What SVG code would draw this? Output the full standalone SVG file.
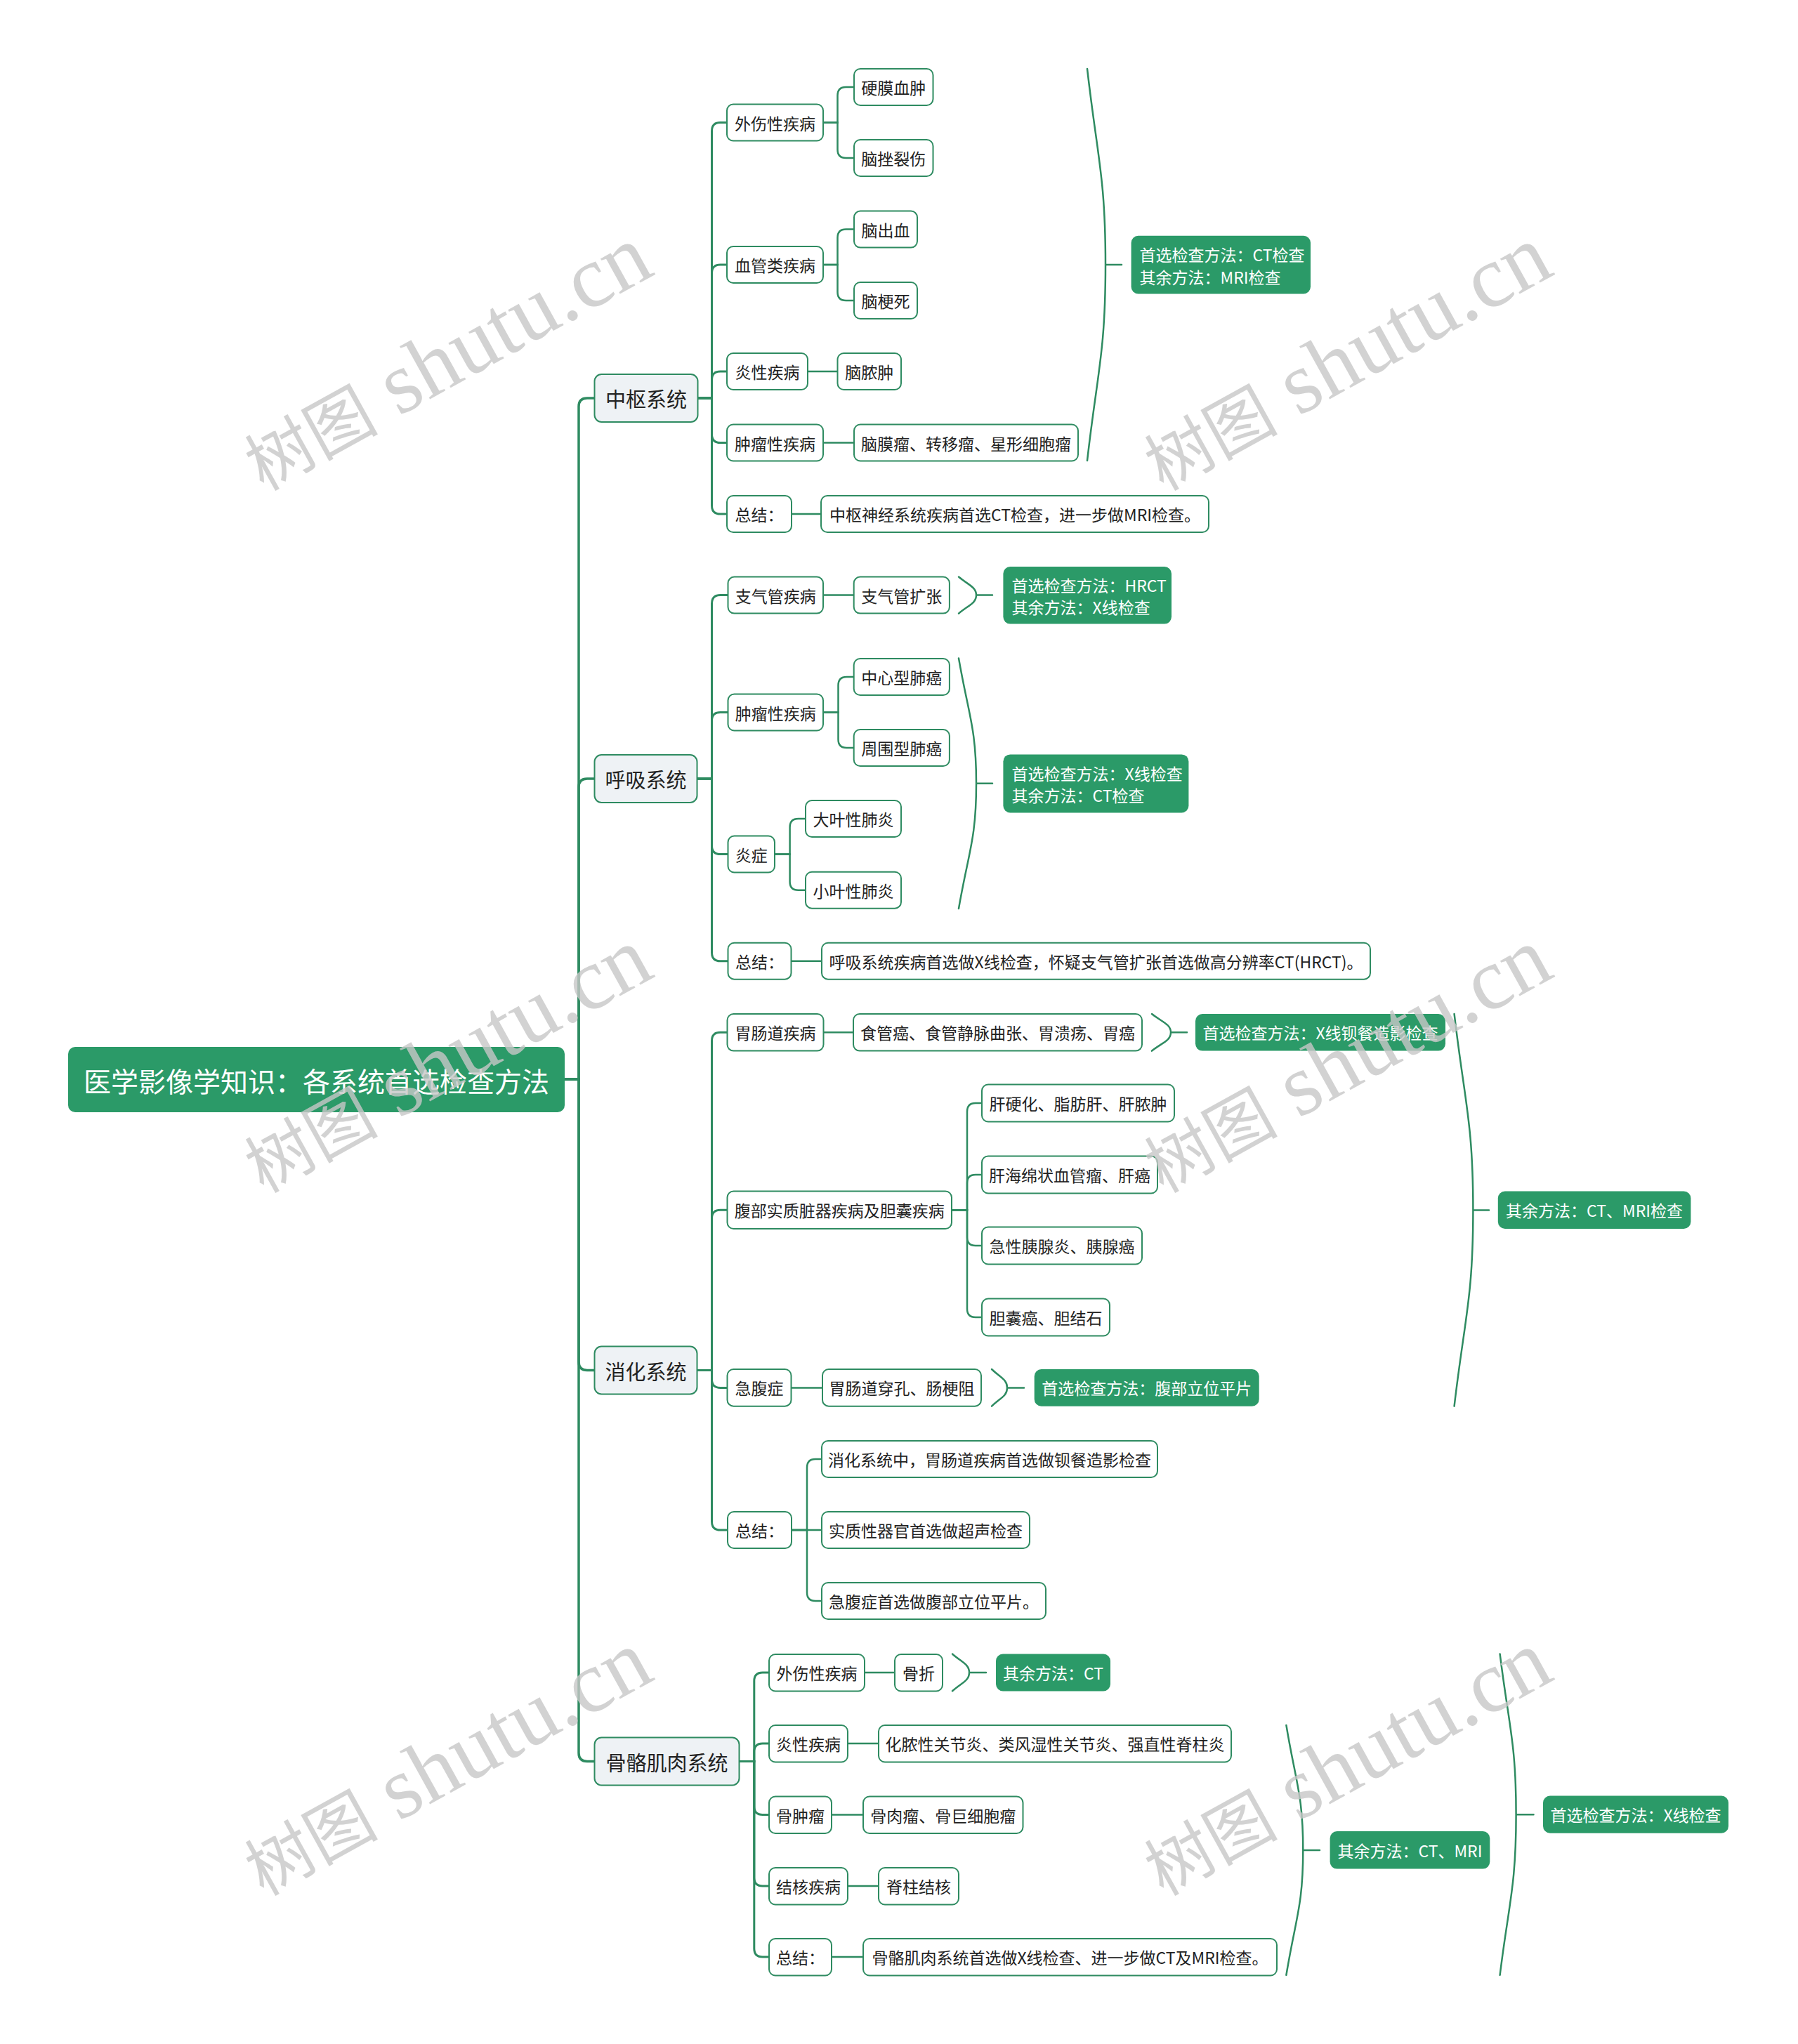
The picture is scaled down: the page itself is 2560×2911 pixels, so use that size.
<svg xmlns="http://www.w3.org/2000/svg" width="2560" height="2911" viewBox="0 0 2560 2911">
<style>
text{font-family:"Noto Sans CJK SC","Noto Sans",sans-serif;fill:#222;}
.nd rect{fill:#fff;stroke:#2e8b61;stroke-width:2;}
.nd text{font-size:23px;text-anchor:middle;dominant-baseline:central;}
.l1 rect{fill:#eef2f5;stroke:#2e8b61;stroke-width:2;}
.l1 text{font-size:29px;text-anchor:middle;dominant-baseline:central;}
.gr rect{fill:#2b9a68;}
.gr text{font-size:23px;fill:#fff;dominant-baseline:central;}
.gr text.m{text-anchor:middle;}
.root rect{fill:#2b9a68;}
.root text{font-size:39px;fill:#fff;text-anchor:middle;dominant-baseline:central;}
.cn path{fill:none;stroke:#2e8b61;stroke-linecap:round;}
.t0 path{stroke-width:3.5;}
.t1 path{stroke-width:3;}
.t2 path{stroke-width:2.5;}
.wm{fill:#c8c8c8;opacity:0.8;}
.wmc{font-family:"Noto Sans CJK SC",serif;font-size:95px;}
.wml{font-family:"Liberation Serif",serif;font-size:125px;}
</style>
<rect width="2560" height="2911" fill="#fff"/>
<g id="connectors" class="cn">
<g class="t0">
<path d="M804 1537 H824 V579 Q824 567 836 567 H846.5"/>
<path d="M804 1537 H824 V1121 Q824 1109 836 1109 H846.5"/>
<path d="M804 1537 H824 V1939.5 Q824 1951.5 836 1951.5 H846.5"/>
<path d="M804 1537 H824 V2496.5 Q824 2508.5 836 2508.5 H846.5"/>
</g>
<g class="t1">
<path d="M993.5 567 H1013.5 V186.5 Q1013.5 174.5 1025.5 174.5 H1035"/>
<path d="M993.5 567 H1013.5 V389 Q1013.5 377 1025.5 377 H1035"/>
<path d="M993.5 567 H1013.5 V541 Q1013.5 529 1025.5 529 H1035"/>
<path d="M993.5 567 H1013.5 V618.5 Q1013.5 630.5 1025.5 630.5 H1035"/>
<path d="M993.5 567 H1013.5 V720 Q1013.5 732 1025.5 732 H1035"/>
<path d="M992.5 1109 H1013.5 V859.6 Q1013.5 847.6 1025.5 847.6 H1036.5"/>
<path d="M992.5 1109 H1013.5 V1026.5 Q1013.5 1014.5 1025.5 1014.5 H1036.5"/>
<path d="M992.5 1109 H1013.5 V1204.5 Q1013.5 1216.5 1025.5 1216.5 H1036.5"/>
<path d="M992.5 1109 H1013.5 V1356.7 Q1013.5 1368.7 1025.5 1368.7 H1036.5"/>
<path d="M992.5 1951.5 H1013.5 V1482.3 Q1013.5 1470.3 1025.5 1470.3 H1035.5"/>
<path d="M992.5 1951.5 H1013.5 V1735.3 Q1013.5 1723.3 1025.5 1723.3 H1035.5"/>
<path d="M992.5 1951.5 H1013.5 V1964.4 Q1013.5 1976.4 1025.5 1976.4 H1035.5"/>
<path d="M992.5 1951.5 H1013.5 V2167 Q1013.5 2179 1025.5 2179 H1035.5"/>
<path d="M1052.5 2508.5 H1073.8 V2394 Q1073.8 2382 1085.8 2382 H1095"/>
<path d="M1052.5 2508.5 H1073.8 V2495 Q1073.8 2483 1085.8 2483 H1095"/>
<path d="M1052.5 2508.5 H1073.8 V2572.5 Q1073.8 2584.5 1085.8 2584.5 H1095"/>
<path d="M1052.5 2508.5 H1073.8 V2674 Q1073.8 2686 1085.8 2686 H1095"/>
<path d="M1052.5 2508.5 H1073.8 V2775 Q1073.8 2787 1085.8 2787 H1095"/>
</g>
<g class="t2">
<path d="M1172 174.5 H1192.5 V136 Q1192.5 124 1204.5 124 H1216"/>
<path d="M1172 174.5 H1192.5 V213 Q1192.5 225 1204.5 225 H1216"/>
<path d="M1172 377 H1192.5 V338.6 Q1192.5 326.6 1204.5 326.6 H1216"/>
<path d="M1172 377 H1192.5 V416 Q1192.5 428 1204.5 428 H1216"/>
<path d="M1150 529 H1192.5"/>
<path d="M1172 630.5 H1216"/>
<path d="M1127 732 H1169"/>
<path d="M1548 98 C1562.3 223.6 1574 251.4 1574 377 C1574 502.6 1562.3 530.4 1548 656 M1574 377 H1597"/>
<path d="M1172 847.6 H1215.7"/>
<path d="M1365 821.5 C1378.8 833.2 1390 835.9 1390 847.6 C1390 859.3 1378.8 862 1365 873.7 M1390 847.6 H1413"/>
<path d="M1172 1014.5 H1193.5 V976 Q1193.5 964 1205.5 964 H1215.7"/>
<path d="M1172 1014.5 H1193.5 V1053 Q1193.5 1065 1205.5 1065 H1215.7"/>
<path d="M1103 1216.5 H1124.6 V1178 Q1124.6 1166 1136.6 1166 H1147"/>
<path d="M1103 1216.5 H1124.6 V1255.7 Q1124.6 1267.7 1136.6 1267.7 H1147"/>
<path d="M1365 937.5 C1378.8 1017.7 1390 1035.5 1390 1115.75 C1390 1196 1378.8 1213.8 1365 1294 M1390 1115.75 H1413"/>
<path d="M1126.5 1368.7 H1170"/>
<path d="M1172.5 1470.3 H1215"/>
<path d="M1640 1444 C1654.9 1455.8 1667 1458.5 1667 1470.3 C1667 1482.1 1654.9 1484.8 1640 1496.6 M1667 1470.3 H1690"/>
<path d="M1355 1723.3 H1377 V1583 Q1377 1571 1389 1571 H1398"/>
<path d="M1355 1723.3 H1377 V1685 Q1377 1673 1389 1673 H1398"/>
<path d="M1355 1723.3 H1377 V1762 Q1377 1774 1389 1774 H1398"/>
<path d="M1355 1723.3 H1377 V1864 Q1377 1876 1389 1876 H1398"/>
<path d="M1126.5 1976.4 H1171"/>
<path d="M1412 1950 C1424.1 1961.9 1434 1964.5 1434 1976.4 C1434 1988.3 1424.1 1990.8 1412 2002.7 M1434 1976.4 H1458"/>
<path d="M2070.6 1444 C2085.3 1569.7 2097.4 1597.7 2097.4 1723.4 C2097.4 1849.1 2085.3 1877 2070.6 2002.7 M2097.4 1723.4 H2120"/>
<path d="M1127 2179 H1149 V2090 Q1149 2078 1161 2078 H1170"/>
<path d="M1127 2179 H1170"/>
<path d="M1127 2179 H1149 V2268 Q1149 2280 1161 2280 H1170"/>
<path d="M1231 2382 H1274"/>
<path d="M1356 2355.5 C1369.2 2367.4 1380 2370 1380 2381.9 C1380 2393.8 1369.2 2396.4 1356 2408.3 M1380 2381.9 H1404"/>
<path d="M1207 2483 H1251"/>
<path d="M1184 2584.5 H1229"/>
<path d="M1207 2686 H1251"/>
<path d="M1184 2787 H1229"/>
<path d="M1831.4 2457 C1844.5 2537 1855.3 2554.9 1855.3 2634.9 C1855.3 2714.9 1844.5 2732.8 1831.4 2812.8 M1855.3 2634.9 H1879"/>
<path d="M2135.6 2355.5 C2148.3 2458.4 2158.6 2481.3 2158.6 2584.2 C2158.6 2687.1 2148.3 2710 2135.6 2812.8 M2158.6 2584.2 H2183.5"/>
</g>
</g>

<g id="root" class="root"><rect x="97" y="1491" width="707" height="93" rx="10"/><text x="450.5" y="1537.5">医学影像学知识：各系统首选检查方法</text></g>

<g id="n-zhongshu" class="l1"><rect x="846.5" y="533" width="147" height="68" rx="10"/><text x="920" y="567">中枢系统</text></g>
<g id="n-huxi" class="l1"><rect x="846.5" y="1075" width="146" height="68" rx="10"/><text x="919.5" y="1109">呼吸系统</text></g>
<g id="n-xiaohua" class="l1"><rect x="846.5" y="1917.5" width="146" height="68" rx="10"/><text x="919.5" y="1951.5">消化系统</text></g>
<g id="n-guge" class="l1"><rect x="846.5" y="2474.5" width="206" height="68" rx="10"/><text x="949.5" y="2508.5">骨骼肌肉系统</text></g>

<g id="n-zs-waishang" class="nd"><rect x="1035" y="148.5" width="137" height="52" rx="9"/><text x="1103.5" y="174.5">外伤性疾病</text></g>
<g id="n-zs-xueguan" class="nd"><rect x="1035" y="351" width="137" height="52" rx="9"/><text x="1103.5" y="377">血管类疾病</text></g>
<g id="n-zs-yanxing" class="nd"><rect x="1035" y="503" width="115" height="52" rx="9"/><text x="1092.5" y="529">炎性疾病</text></g>
<g id="n-zs-zhongliu" class="nd"><rect x="1035" y="604.5" width="137" height="52" rx="9"/><text x="1103.5" y="630.5">肿瘤性疾病</text></g>
<g id="n-zs-zongjie" class="nd"><rect x="1035" y="706" width="92" height="52" rx="9"/><text x="1081" y="732">总结：</text></g>
<g id="n-zs-yingmo" class="nd"><rect x="1216" y="98" width="112.5" height="52" rx="9"/><text x="1272.25" y="124">硬膜血肿</text></g>
<g id="n-zs-cuolie" class="nd"><rect x="1216" y="199" width="112.5" height="52" rx="9"/><text x="1272.25" y="225">脑挫裂伤</text></g>
<g id="n-zs-chuxue" class="nd"><rect x="1216" y="300.6" width="90" height="52" rx="9"/><text x="1261" y="326.6">脑出血</text></g>
<g id="n-zs-gengsi" class="nd"><rect x="1216" y="402" width="90" height="52" rx="9"/><text x="1261" y="428">脑梗死</text></g>
<g id="n-zs-naonong" class="nd"><rect x="1192.5" y="503" width="90.5" height="52" rx="9"/><text x="1237.75" y="529">脑脓肿</text></g>
<g id="n-zs-naomo" class="nd"><rect x="1216" y="604.5" width="319" height="52" rx="9"/><text x="1375.5" y="630.5">脑膜瘤、转移瘤、星形细胞瘤</text></g>
<g id="n-zs-zj1" class="nd"><rect x="1169" y="706" width="552" height="52" rx="9"/><text x="1445" y="732">中枢神经系统疾病首选CT检查，进一步做MRI检查。</text></g>
<g id="g-zs" class="gr"><rect x="1610.6" y="335.8" width="255.4" height="82.6" rx="10"/><text x="1622.5" y="362">首选检查方法：CT检查</text><text x="1622.5" y="393.5">其余方法：MRI检查</text></g>

<g id="n-hx-zhiqiguan" class="nd"><rect x="1036.5" y="821.6" width="135.5" height="52" rx="9"/><text x="1104.25" y="847.6">支气管疾病</text></g>
<g id="n-hx-kuozhang" class="nd"><rect x="1215.7" y="821.6" width="136.2" height="52" rx="9"/><text x="1283.8" y="847.6">支气管扩张</text></g>
<g id="g-hx1" class="gr"><rect x="1428.4" y="807" width="239.6" height="81.6" rx="10"/><text x="1440.5" y="832.5">首选检查方法：HRCT</text><text x="1440.5" y="863.5">其余方法：X线检查</text></g>
<g id="n-hx-zhongliu" class="nd"><rect x="1036.5" y="988.5" width="135.5" height="52" rx="9"/><text x="1104.25" y="1014.5">肿瘤性疾病</text></g>
<g id="n-hx-zhongxin" class="nd"><rect x="1215.7" y="938" width="136.2" height="52" rx="9"/><text x="1283.8" y="964">中心型肺癌</text></g>
<g id="n-hx-zhouwei" class="nd"><rect x="1215.7" y="1039" width="136.2" height="52" rx="9"/><text x="1283.8" y="1065">周围型肺癌</text></g>
<g id="n-hx-yanzheng" class="nd"><rect x="1036.5" y="1190.5" width="66.5" height="52" rx="9"/><text x="1069.75" y="1216.5">炎症</text></g>
<g id="n-hx-daye" class="nd"><rect x="1147" y="1140" width="136" height="52" rx="9"/><text x="1215" y="1166">大叶性肺炎</text></g>
<g id="n-hx-xiaoye" class="nd"><rect x="1147" y="1241.7" width="136" height="52" rx="9"/><text x="1215" y="1267.7">小叶性肺炎</text></g>
<g id="g-hx2" class="gr"><rect x="1428.4" y="1074.4" width="264" height="83" rx="10"/><text x="1440.5" y="1100.5">首选检查方法：X线检查</text><text x="1440.5" y="1131.5">其余方法：CT检查</text></g>
<g id="n-hx-zongjie" class="nd"><rect x="1036.5" y="1342.7" width="90" height="52" rx="9"/><text x="1081.5" y="1368.7">总结：</text></g>
<g id="n-hx-zj1" class="nd"><rect x="1170" y="1342.7" width="781" height="52" rx="9"/><text x="1560.5" y="1368.7">呼吸系统疾病首选做X线检查，怀疑支气管扩张首选做高分辨率CT(HRCT)。</text></g>

<g id="n-xh-weichang" class="nd"><rect x="1035.5" y="1444" width="137" height="52.6" rx="9"/><text x="1104" y="1470.3">胃肠道疾病</text></g>
<g id="n-xh-shiguan" class="nd"><rect x="1215" y="1444" width="411" height="52.6" rx="9"/><text x="1420.5" y="1470.3">食管癌、食管静脉曲张、胃溃疡、胃癌</text></g>
<g id="g-xh1" class="gr"><rect x="1702" y="1444" width="356" height="52.6" rx="10"/><text class="m" x="1880" y="1470.3">首选检查方法：X线钡餐造影检查</text></g>
<g id="n-xh-fubu" class="nd"><rect x="1035.5" y="1696.5" width="319.5" height="53.5" rx="9"/><text x="1195.25" y="1723.3">腹部实质脏器疾病及胆囊疾病</text></g>
<g id="n-xh-gan1" class="nd"><rect x="1398" y="1544.5" width="274" height="53" rx="9"/><text x="1535" y="1571">肝硬化、脂肪肝、肝脓肿</text></g>
<g id="n-xh-gan2" class="nd"><rect x="1398" y="1646.5" width="250" height="53" rx="9"/><text x="1523" y="1673">肝海绵状血管瘤、肝癌</text></g>
<g id="n-xh-yi" class="nd"><rect x="1398" y="1747.5" width="228" height="53" rx="9"/><text x="1512" y="1774">急性胰腺炎、胰腺癌</text></g>
<g id="n-xh-dan" class="nd"><rect x="1398" y="1849.5" width="182" height="53" rx="9"/><text x="1489" y="1876">胆囊癌、胆结石</text></g>
<g id="g-xh2" class="gr"><rect x="2132.8" y="1696.5" width="274.6" height="53.5" rx="10"/><text class="m" x="2270.1" y="1723.3">其余方法：CT、MRI检查</text></g>
<g id="n-xh-jifu" class="nd"><rect x="1035.5" y="1950" width="91" height="52.7" rx="9"/><text x="1081" y="1976.4">急腹症</text></g>
<g id="n-xh-chuankong" class="nd"><rect x="1171" y="1950" width="226" height="52.7" rx="9"/><text x="1284" y="1976.4">胃肠道穿孔、肠梗阻</text></g>
<g id="g-xh3" class="gr"><rect x="1472.7" y="1950" width="320" height="52.7" rx="10"/><text class="m" x="1632.7" y="1976.4">首选检查方法：腹部立位平片</text></g>
<g id="n-xh-zongjie" class="nd"><rect x="1036" y="2153" width="91" height="52" rx="9"/><text x="1081.5" y="2179">总结：</text></g>
<g id="n-xh-zj1" class="nd"><rect x="1170" y="2052" width="478" height="52" rx="9"/><text x="1409" y="2078">消化系统中，胃肠道疾病首选做钡餐造影检查</text></g>
<g id="n-xh-zj2" class="nd"><rect x="1170" y="2153" width="296" height="52" rx="9"/><text x="1318" y="2179">实质性器官首选做超声检查</text></g>
<g id="n-xh-zj3" class="nd"><rect x="1170" y="2254" width="319" height="52" rx="9"/><text x="1329.5" y="2280">急腹症首选做腹部立位平片。</text></g>

<g id="n-gg-waishang" class="nd"><rect x="1095" y="2356" width="136" height="52.5" rx="9"/><text x="1163" y="2382">外伤性疾病</text></g>
<g id="n-gg-guzhe" class="nd"><rect x="1274" y="2356" width="68" height="52.5" rx="9"/><text x="1308" y="2382">骨折</text></g>
<g id="g-gg1" class="gr"><rect x="1418" y="2355.5" width="163" height="53" rx="10"/><text class="m" x="1499.5" y="2382">其余方法：CT</text></g>
<g id="n-gg-yanxing" class="nd"><rect x="1095" y="2457" width="112" height="52.5" rx="9"/><text x="1151" y="2483">炎性疾病</text></g>
<g id="n-gg-guanjie" class="nd"><rect x="1251" y="2457" width="502" height="52.5" rx="9"/><text x="1502" y="2483">化脓性关节炎、类风湿性关节炎、强直性脊柱炎</text></g>
<g id="n-gg-guzhong" class="nd"><rect x="1095" y="2558.5" width="89" height="52.5" rx="9"/><text x="1139.5" y="2584.5">骨肿瘤</text></g>
<g id="n-gg-gurou" class="nd"><rect x="1229" y="2558.5" width="227.5" height="52.5" rx="9"/><text x="1342.75" y="2584.5">骨肉瘤、骨巨细胞瘤</text></g>
<g id="n-gg-jiehe" class="nd"><rect x="1095" y="2660" width="112" height="52.5" rx="9"/><text x="1151" y="2686">结核疾病</text></g>
<g id="n-gg-jizhu" class="nd"><rect x="1251" y="2660" width="114" height="52.5" rx="9"/><text x="1308" y="2686">脊柱结核</text></g>
<g id="n-gg-zongjie" class="nd"><rect x="1095" y="2761" width="89" height="52.5" rx="9"/><text x="1139.5" y="2787">总结：</text></g>
<g id="n-gg-zj1" class="nd"><rect x="1229" y="2761" width="589" height="52.5" rx="9"/><text x="1523.5" y="2787">骨骼肌肉系统首选做X线检查、进一步做CT及MRI检查。</text></g>
<g id="g-gg2" class="gr"><rect x="1893.6" y="2608" width="227.7" height="53.6" rx="10"/><text class="m" x="2007.45" y="2634.8">其余方法：CT、MRI</text></g>
<g id="g-gg3" class="gr"><rect x="2197" y="2557.6" width="264" height="53.2" rx="10"/><text class="m" x="2329" y="2584.2">首选检查方法：X线检查</text></g>

<g id="watermarks">
<text class="wm" transform="translate(375 700) rotate(-29)"><tspan class="wmc">树图</tspan><tspan class="wml" dx="30">shutu.cn</tspan></text>
<text class="wm" transform="translate(1656 700) rotate(-29)"><tspan class="wmc">树图</tspan><tspan class="wml" dx="30">shutu.cn</tspan></text>
<text class="wm" transform="translate(375 1700) rotate(-29)"><tspan class="wmc">树图</tspan><tspan class="wml" dx="30">shutu.cn</tspan></text>
<text class="wm" transform="translate(1656 1700) rotate(-29)"><tspan class="wmc">树图</tspan><tspan class="wml" dx="30">shutu.cn</tspan></text>
<text class="wm" transform="translate(375 2701) rotate(-29)"><tspan class="wmc">树图</tspan><tspan class="wml" dx="30">shutu.cn</tspan></text>
<text class="wm" transform="translate(1656 2701) rotate(-29)"><tspan class="wmc">树图</tspan><tspan class="wml" dx="30">shutu.cn</tspan></text>
</g>
</svg>
